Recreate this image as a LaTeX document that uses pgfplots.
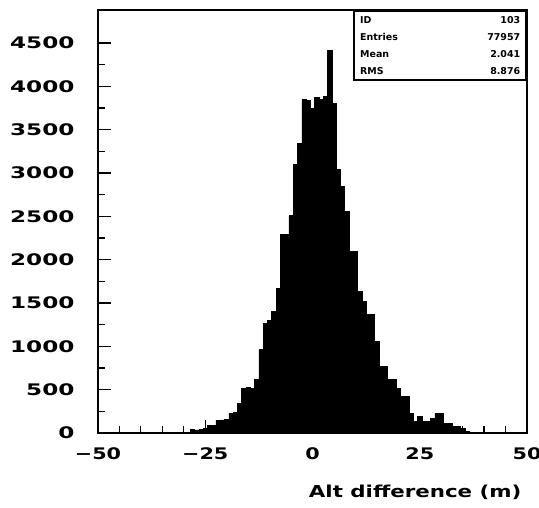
\documentclass[border=0pt]{standalone}
\usepackage{fontspec}
\usepackage{pgfplots}
\pgfplotsset{compat=1.18}
\setmainfont{DejaVu Sans}
\newfontfamily\rootfont{DejaVu Sans}[FakeStretch=1.3]
\newfontfamily\rootfontw{DejaVu Sans}[FakeStretch=1.45]
\begin{document}
\begin{tikzpicture}
\begin{axis}[
  scale only axis,
  width=429bp, height=423bp,
  at={(98bp,75bp)}, anchor=south west,
  xmin=-50, xmax=50, ymin=0, ymax=4880,
  axis line style={line width=1.6bp},
  every tick/.style={line width=1.2bp, black},
  xtick={-50,-25,0,25,50},
  xticklabels={−50,−25,0,25,50},
  ytick={0,500,1000,1500,2000,2500,3000,3500,4000,4500},
  yticklabels={0,500,1000,1500,2000,2500,3000,3500,4000,4500},
  minor x tick num=4, minor y tick num=1,
  xtick pos=bottom, ytick pos=left,
  tick align=inside,
  major tick length=13bp, minor tick length=7bp,
  yticklabel style={font=\rootfontw\fontsize{16}{18}\selectfont\bfseries, xshift=-20bp},
  xticklabel style={font=\rootfont\fontsize{16}{18}\selectfont\bfseries, yshift=-11bp},
  xlabel={Alt difference (m)},
  xlabel style={font=\rootfont\fontsize{16.5}{18}\selectfont\bfseries, at={(axis description cs:1,0)}, anchor=north east, yshift=-48bp, xshift=-2bp},
  axis on top=false,
]
\addplot[const plot, fill=black, draw=black, line width=0.5bp] coordinates {
(-50,0)(-28.5,40)(-27.5,35)(-26.5,45)(-25.5,50)(-24.5,85)(-23.5,90)(-22.5,146)(-21.5,150)(-20.5,160)(-19.5,230)(-18.5,235)(-17.5,346)(-16.5,519)(-15.5,530)(-14.5,519)(-13.5,615)(-12.5,961)(-11.5,1269)(-10.5,1300)(-9.5,1404)(-8.5,1672)(-7.5,2288)(-6.5,2288)(-5.5,2507)(-4.5,3095)(-3.5,3345)(-2.5,3845)(-1.5,3837)(-0.5,3748)(0.5,3875)(1.5,3852)(2.5,3883)(3.5,4414)(4.5,3806)(5.5,3037)(6.5,2845)(7.5,2557)(8.5,2096)(9.5,2096)(10.5,1634)(11.5,1519)(12.5,1365)(13.5,1365)(14.5,1057)(15.5,769)(16.5,769)(17.5,615)(18.5,615)(19.5,519)(20.5,423)(21.5,423)(22.5,230)(23.5,134)(24.5,192)(25.5,134)(26.5,134)(27.5,173)(28.5,223)(29.5,223)(30.5,115)(31.5,115)(32.5,77)(33.5,77)(34.5,57)(35.5,20)(36.5,0)(50,0)
} \closedcycle;
\node[draw=black, line width=1.6bp, fill=white, anchor=north east, inner sep=0pt,
      minimum width=172bp, minimum height=69bp, align=left,
      font=\fontsize{9.5}{17}\selectfont\bfseries]
  at (axis description cs:1,1) {%
  \makebox[160bp]{ID\hfill 103}\\
  \makebox[160bp]{Entries\hfill 77957}\\
  \makebox[160bp]{Mean\hfill 2.041}\\
  \makebox[160bp]{RMS\hfill 8.876}};
\end{axis}
\pgfresetboundingbox
\path[use as bounding box] (0,0) rectangle (539bp,508bp);
\end{tikzpicture}
\end{document}
